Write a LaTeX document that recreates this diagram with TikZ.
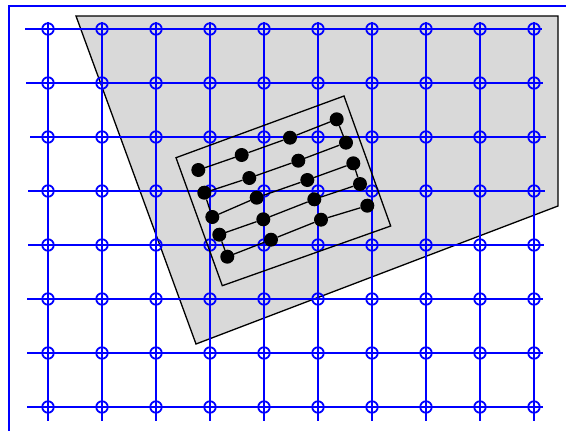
\documentclass[tikz,border=0pt]{standalone}
\usepackage{tikz}
\usetikzlibrary{positioning}
\definecolor{gridblue}{HTML}{0000FF}
\definecolor{regiongray}{HTML}{D9D9D9}

\tikzset{
  frameline/.style={draw=gridblue,line width=2pt},
  gridline/.style={draw=gridblue,line width=2pt},
  gridpt/.style={circle,draw=gridblue,line width=1.8pt,minimum size=11.5pt,inner sep=0pt},
  region/.style={draw=black,line width=1.3pt,fill=regiongray},
  window/.style={draw=black,line width=1.3pt},
  dot/.style={circle,fill=black,minimum size=14pt,inner sep=0pt},
  chain/.style={draw=black,line width=1.3pt}
}

\begin{document}
\begin{tikzpicture}[x=1pt,y=-1pt]
\useasboundingbox (0,0) rectangle (566,431);
\draw[frameline] (9,470) -- (9,6) -- (600,6);
\draw[region] (76,16) -- (558,16) -- (558,206) -- (196,344) -- cycle;

\foreach \row/\lx/\rx in {1/25/542,2/26/543,3/30/546,4/28/545,5/28/544,6/27/543,7/27/543,8/27/543}{
  \coordinate (hl\row) at (\lx,54*\row-25);
  \coordinate (hr\row) at (\rx,54*\row-25);
  \draw[gridline] (hl\row) -- (hr\row);
}
\foreach \col in {1,...,10}{
  \coordinate (vt\col) at (54*\col-6,22);
  \coordinate (vb\col) at (54*\col-6,421);
  \draw[gridline] (vt\col) -- (vb\col);
}
\foreach \row in {1,...,8}
  \foreach \col in {1,...,10}
    \node[gridpt] (g\row-\col) at (54*\col-6,54*\row-25) {};

\draw[window] (176,157.7) -- (344,96) -- (390.7,226) -- (222.3,285.7) -- cycle;
\foreach \p [count=\k] in {
  {198.3,170},{241.7,155},{290,137.7},{336.7,119.3},
  {346,142.7},{298.3,160.7},{249.3,178},{204.3,192.7},
  {212.3,217},{256.7,197.7},{307.3,180},{353.3,163.3},
  {360,184},{314.3,199.3},{263.3,219.3},{219.3,234.7},
  {227.3,256.7},{271,239.7},{321,219.7},{367.3,205.7}}
  \node[dot] (d\k) at (\p) {};
\foreach \k [evaluate=\k as \n using int(\k+1)] in {1,...,19}
  \draw[chain] (d\k) -- (d\n);
\end{tikzpicture}
\end{document}
